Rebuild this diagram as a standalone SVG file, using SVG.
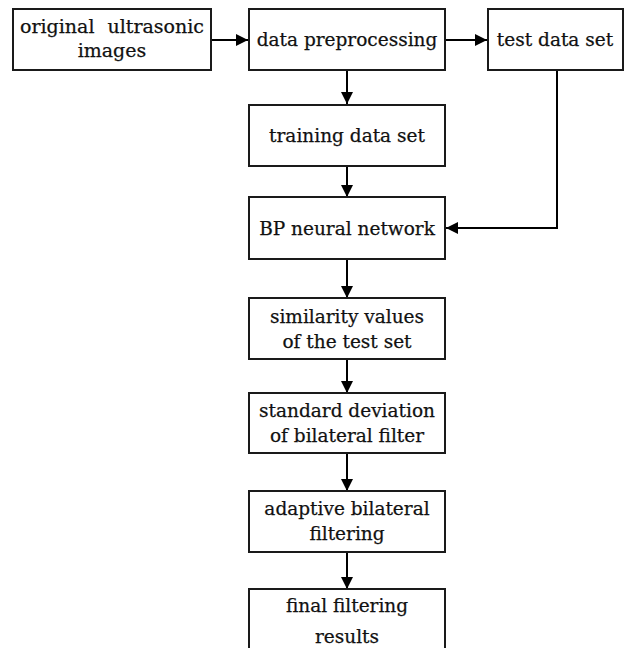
<svg xmlns="http://www.w3.org/2000/svg" width="627" height="648" viewBox="0 0 627 648">
  <style>
    .box { fill: #ffffff; stroke: #1a1a1a; stroke-width: 2; }
    .lbl { font-family: "DejaVu Serif", "Liberation Serif", serif; font-size: 18.5px; fill: #111111; stroke: #111111; stroke-width: 0.25; text-anchor: middle; }
    .big { font-size: 19px; }
    .conn { fill: none; stroke: #000000; stroke-width: 2; }
  </style>
  <defs>
    <marker id="arr" markerUnits="userSpaceOnUse" markerWidth="14" markerHeight="14" refX="12" refY="6" orient="auto">
      <path d="M0,0 L12,6 L0,12 Z" fill="#000000"/>
    </marker>
  </defs>
  <rect width="627" height="648" fill="#ffffff"/>

  <g id="connectors">
    <line class="conn" x1="211" y1="40" x2="248" y2="40" marker-end="url(#arr)"/>
    <line class="conn" x1="445" y1="40" x2="487" y2="40" marker-end="url(#arr)"/>
    <line class="conn" x1="347" y1="70" x2="347" y2="104" marker-end="url(#arr)"/>
    <line class="conn" x1="347" y1="166" x2="347" y2="197" marker-end="url(#arr)"/>
    <polyline class="conn" points="557,70 557,228 446,228" marker-end="url(#arr)"/>
    <line class="conn" x1="347" y1="259" x2="347" y2="298" marker-end="url(#arr)"/>
    <line class="conn" x1="347" y1="359" x2="347" y2="393" marker-end="url(#arr)"/>
    <line class="conn" x1="347" y1="453" x2="347" y2="491" marker-end="url(#arr)"/>
    <line class="conn" x1="347" y1="552" x2="347" y2="589" marker-end="url(#arr)"/>
  </g>

  <g id="original">
    <rect class="box" x="13" y="9" width="198" height="61"/>
    <text class="lbl big" x="112" y="33" word-spacing="7">original ultrasonic</text>
    <text class="lbl big" x="112" y="57">images</text>
  </g>
  <g id="preprocessing">
    <rect class="box" x="249" y="9" width="196" height="61"/>
    <text class="lbl" x="347" y="46">data preprocessing</text>
  </g>
  <g id="testset">
    <rect class="box" x="488" y="9" width="135" height="61"/>
    <text class="lbl" x="555" y="46">test data set</text>
  </g>
  <g id="training">
    <rect class="box" x="249" y="105" width="196" height="61"/>
    <text class="lbl" x="347" y="142">training data set</text>
  </g>
  <g id="bp">
    <rect class="box" x="249" y="197" width="196" height="62"/>
    <text class="lbl" x="347" y="235">BP neural network</text>
  </g>
  <g id="similarity">
    <rect class="box" x="249" y="298" width="196" height="61"/>
    <text class="lbl" x="347" y="323">similarity values</text>
    <text class="lbl" x="347" y="348">of the test set</text>
  </g>
  <g id="stddev">
    <rect class="box" x="249" y="393" width="196" height="60"/>
    <text class="lbl" x="347" y="417">standard deviation</text>
    <text class="lbl" x="347" y="442">of bilateral filter</text>
  </g>
  <g id="adaptive">
    <rect class="box" x="249" y="491" width="196" height="61"/>
    <text class="lbl" x="347" y="515">adaptive bilateral</text>
    <text class="lbl" x="347" y="540">filtering</text>
  </g>
  <g id="final">
    <rect class="box" x="249" y="589" width="196" height="80"/>
    <text class="lbl" x="347" y="612">final filtering</text>
    <text class="lbl" x="347" y="643">results</text>
  </g>
</svg>
